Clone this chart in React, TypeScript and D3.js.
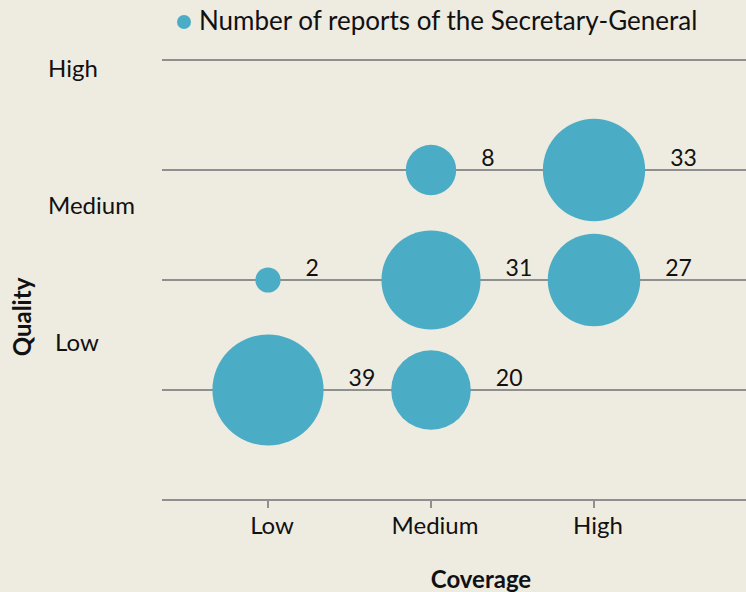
import React from 'react'
import * as d3 from 'd3'

const levels = ['Low', 'Medium', 'High']
const qualityLabels = ['High', 'Medium', 'Low']
const coverageOrder = ['Low', 'Medium', 'Low', 'Medium', 'High', 'Medium', 'High']
const qualityOrder = ['Low', 'Low', 'Medium', 'Medium', 'Medium', 'High', 'High']
const reports = [39, 20, 2, 31, 27, 8, 33]
const legendLabel = 'Number of reports of the Secretary-General'

const W = 746
const H = 592
const font = 'Lato, "Open Sans", sans-serif'
const blue = '#4bacc6'
const grid = '#8f8f8f'

export default function App() {
  const x = d3.scalePoint().domain(levels).range([268, 594])
  // rows: one gridline above and below the three categories
  const y = d3.scaleLinear().domain([-1, 3]).range([500, 60])
  const yIndex = (q: string) => levels.indexOf(q)
  const r = d3.scaleSqrt().domain([0, 39]).range([0, 55.6])
  const yLab = d3.scalePoint().domain(qualityLabels).range([69, 343])

  const data = reports.map((v, i) => ({
    c: coverageOrder[i],
    q: qualityOrder[i],
    v
  }))

  return (
    <svg width={W} height={H} style={{ position: 'absolute', left: 0, top: 0, background: '#eeebe1' }}>
      <rect width={W} height={H} fill="#eeebe1" />
      {d3.range(-1, 4).map(i =>
        <line key={i} x1={162} x2={W} y1={y(i)} y2={y(i)} stroke={grid} strokeWidth={2} />
      )}
      {levels.map(l =>
        <g key={l}>
          <line x1={x(l)} x2={x(l)} y1={y(-1)} y2={y(-1) + 8} stroke={grid} strokeWidth={2} />
          <text x={(x(l) as number) + 4} y={534} textAnchor="middle" fontFamily={font} fontSize={24} fill="#111">{l}</text>
        </g>
      )}
      {qualityLabels.map(l =>
        <text key={l} x={l === 'Low' ? 55 : 48} y={(yLab(l) as number) + 8} fontFamily={font} fontSize={24} fill="#111">{l}</text>
      )}
      <text transform="translate(31,317) rotate(-90)" textAnchor="middle" fontFamily={font} fontSize={24} fontWeight="bold" fill="#111">Quality</text>
      <text x={481} y={588} textAnchor="middle" fontFamily={font} fontSize={24} fontWeight="bold" fill="#111">Coverage</text>

      {data.map((d, i) => {
        const cx = x(d.c) as number
        const cy = y(yIndex(d.q))
        return (
          <g key={i}>
            <circle cx={cx} cy={cy} r={r(d.v)} fill={blue} />
            <text x={cx + r(d.v) + 25} y={cy - 4} fontFamily={font} fontSize={23} fill="#111">{d.v}</text>
          </g>
        )
      })}

      <circle cx={184} cy={22} r={7} fill={blue} />
      <text x={199} y={30} fontFamily={font} fontSize={26} fill="#111">{legendLabel}</text>
    </svg>
  )
}
